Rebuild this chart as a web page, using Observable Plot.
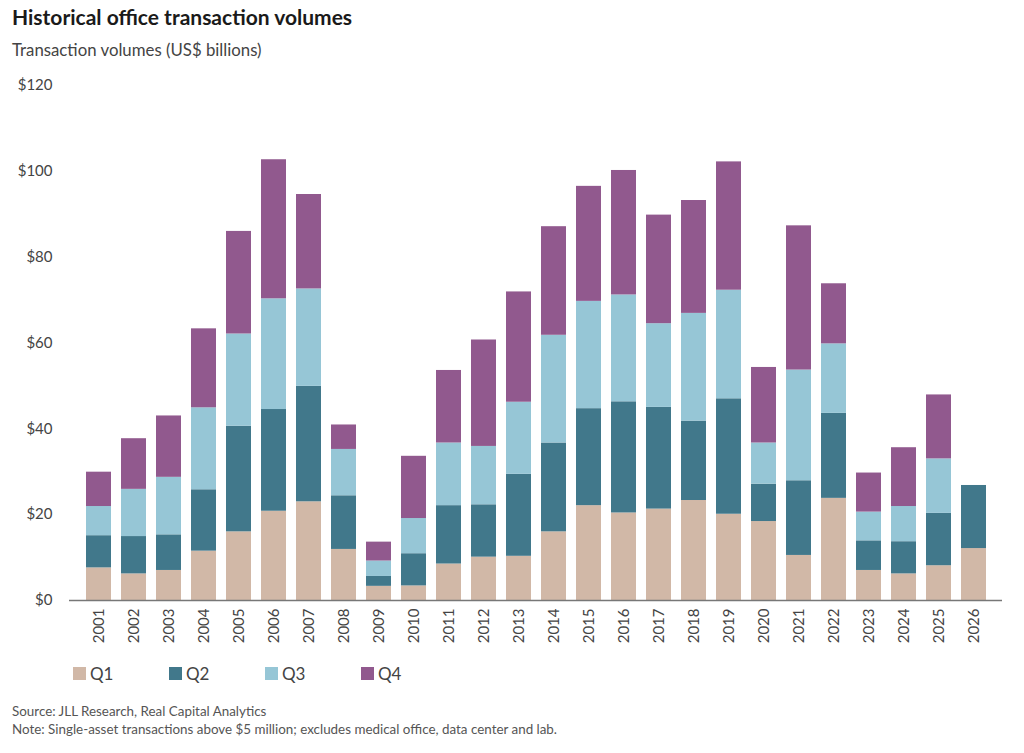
<!DOCTYPE html>
<html>
<head>
<meta charset="utf-8">
<script src="https://cdn.jsdelivr.net/npm/d3@7"></script>
<script src="https://cdn.jsdelivr.net/npm/@observablehq/plot@0.6"></script>
<style>
  body { margin: 0; background: #fff; font-family: Lato, "Open Sans", sans-serif; color: #333; }
  #wrap { position: relative; width: 1024px; height: 753px; }
  .abs { position: absolute; white-space: nowrap; }
  #title { left: 12px; top: 4px; font-size: 21px; font-weight: 700; color: #1a1a1a; }
  #subtitle { left: 12px; top: 39px; font-size: 16.8px; color: #444; }
  #chart { left: 0; top: 70px; }
  #legend { left: 73px; top: 663px; font-size: 17px; color: #444; display: flex; }
  .item { display: flex; align-items: center; width: 96px; }
  .sw { width: 13px; height: 13px; margin-right: 4px; }
  #source { left: 12px; top: 702px; font-size: 13.4px; color: #555; line-height: 18px; }
</style>
</head>
<body>
<div id="wrap">
  <div id="title" class="abs">Historical office transaction volumes</div>
  <div id="subtitle" class="abs">Transaction volumes (US$ billions)</div>
  <div id="chart" class="abs"></div>
  <div id="legend" class="abs"></div>
  <div id="source" class="abs">Source: JLL Research, Real Capital Analytics<br>Note: Single-asset transactions above $5 million; excludes medical office, data center and lab.</div>
</div>
<script>
const years = ["2001","2002","2003","2004","2005","2006","2007","2008","2009","2010","2011","2012","2013","2014","2015","2016","2017","2018","2019","2020","2021","2022","2023","2024","2025","2026"];
const q1 = [7.6, 6.2, 7.0, 11.5, 16.0, 20.8, 23.0, 11.9, 3.3, 3.4, 8.5, 10.1, 10.3, 16.0, 22.1, 20.4, 21.3, 23.3, 20.1, 18.4, 10.5, 23.8, 7.0, 6.2, 8.1, 12.1];
const q2 = [7.5, 8.7, 8.3, 14.3, 24.6, 23.7, 26.9, 12.5, 2.3, 7.5, 13.6, 12.2, 19.1, 20.7, 22.6, 25.9, 23.7, 18.5, 26.9, 8.7, 17.4, 19.8, 6.9, 7.5, 12.2, 14.7];
const q3 = [6.8, 11.0, 13.4, 19.1, 21.5, 25.8, 22.7, 10.8, 3.6, 8.2, 14.6, 13.6, 16.8, 25.1, 25.0, 24.9, 19.5, 25.1, 25.3, 9.6, 25.8, 16.2, 6.7, 8.2, 12.7, null];
const q4 = [8.0, 11.8, 14.3, 18.4, 23.9, 32.4, 22.0, 5.7, 4.4, 14.5, 16.9, 24.8, 25.7, 25.3, 26.8, 29.0, 25.3, 26.3, 29.9, 17.6, 33.6, 14.0, 9.1, 13.7, 14.9, null];
const quarters = ["Q1","Q2","Q3","Q4"];
const colors = ["#d1b8a7", "#41788b", "#96c6d6", "#91598e"];
const yTicks = [0, 20, 40, 60, 80, 100, 120];

const series = [q1, q2, q3, q4];
const rows = [];
years.forEach((yr, i) => {
  series.forEach((s, k) => {
    if (s[i] != null) rows.push({year: yr, quarter: quarters[k], value: s[i]});
  });
});

const chart = Plot.plot({
  width: 1024,
  height: 585,
  marginLeft: 69,
  marginRight: 22,
  marginTop: 15,
  marginBottom: 55,
  style: {fontFamily: "Lato, 'Open Sans', sans-serif", fontSize: "15px", color: "#444", background: "#fff"},
  x: {domain: years, paddingInner: 0.29, paddingOuter: 0.17, label: null},
  y: {domain: [0, 120], label: null},
  color: {domain: quarters, range: colors},
  marks: [
    Plot.barY(rows, Plot.stackY({order: quarters}, {x: "year", y: "value", fill: "quarter"})),
    Plot.ruleY([0], {stroke: "#777", strokeWidth: 1.5}),
    Plot.axisY({ticks: yTicks, tickFormat: d => "$" + d, tickSize: 0, tickPadding: 17, fontSize: 15, label: null}),
    Plot.axisX({tickSize: 0, tickPadding: 8, tickRotate: -90, fontSize: 15, label: null})
  ]
});
document.getElementById("chart").appendChild(chart);

const legend = document.getElementById("legend");
quarters.forEach((q, k) => {
  const it = document.createElement("div");
  it.className = "item";
  const sw = document.createElement("span");
  sw.className = "sw";
  sw.style.background = colors[k];
  it.appendChild(sw);
  it.appendChild(document.createTextNode(q));
  legend.appendChild(it);
});
</script>
</body>
</html>
